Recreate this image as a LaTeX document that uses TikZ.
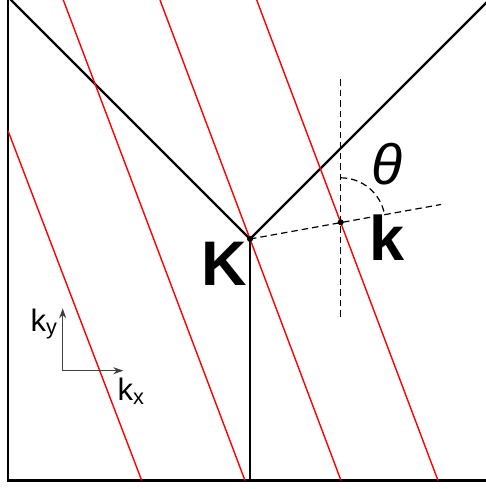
\documentclass[tikz,border=0pt]{standalone}
\usepackage{fontspec}
\newfontfamily\lib{Liberation Sans}
\usetikzlibrary{arrows.meta}
\begin{document}
\begin{tikzpicture}[x=1pt,y=1pt,
  frame/.style={line width=2.3pt,black},
  cone/.style={line width=2.3pt,black},
  wave/.style={line width=1.4pt,red},
  guide/.style={line width=1.2pt,black,dash pattern=on 6.5pt off 4pt},
  axis/.style={line width=1.3pt,black!75,-{Stealth[length=10pt,width=7pt]}},
  dot/.style={circle,fill=black,inner sep=0pt,minimum size=6pt},
  biglabel/.style={font=\lib\bfseries\fontsize{63}{63}\selectfont,inner sep=0pt},
  smalllabel/.style={font=\lib\fontsize{31}{31}\selectfont,inner sep=0pt}]
\useasboundingbox (0,0) rectangle (486,489);
\clip (0,0) rectangle (486,489);
% points
\coordinate (K) at (250,250);
\coordinate (k) at (340.7,266.7);
\coordinate (tl) at (8,489);
\coordinate (bl) at (8,8.5);
\coordinate (br) at (490,8.5);
\coordinate (cl) at (6,494);
\coordinate (cr) at (492,492);
\coordinate (Kb) at (250,8.5);
% frame
\draw[frame] (tl) -- (bl) -- (br);
% cone
\draw[cone] (cl) -- (K) -- (cr);
\draw[line width=2pt] (K) -- (Kb);
% wavefronts
\coordinate (r1a) at (8,358.3);   \coordinate (r1b) at (141.7,8.5);
\coordinate (r2a) at (63.3,489);  \coordinate (r2b) at (245,8.5);
\coordinate (r3a) at (160,489);   \coordinate (r3b) at (341,8.5);
\coordinate (r4a) at (256.7,489); \coordinate (r4b) at (438,8.5);
\draw[wave] (r1a) -- (r1b);
\draw[wave] (r2a) -- (r2b);
\draw[wave] (r3a) -- (r3b);
\draw[wave] (r4a) -- (r4b);
% guides
\coordinate (kend) at (441,284.5);
\coordinate (vtop) at (340.7,409.7);
\coordinate (vbot) at (340.7,169);
\draw[guide] (K) -- (kend);
\draw[guide] (vtop) -- (vbot);
\coordinate (arcstart) at (340.7,311.2);
\draw[guide] (arcstart) arc[start angle=90,end angle=10.4,radius=44.5];
% dots
\node[dot] (Kdot) at (K) {};
\node[dot] (kdot) at (k) {};
% labels
\node[biglabel] (Klab) at (224.7,225) {K};
\node[biglabel] (klab) at (386.7,251) {k};
\node[inner sep=0pt,font=\lib\itshape\fontsize{57}{57}\selectfont] (theta) at (387,325) {θ};
% axes
\coordinate (o) at (62.7,118.3);
\coordinate (ytip) at (62.7,180.7);
\coordinate (xtip) at (123.3,118.3);
\draw[axis] (o) -- (ytip);
\draw[axis] (o) -- (xtip);
\node[smalllabel] (ky) at (44,165) {k\textsubscript{y}};
\node[smalllabel] (kx) at (131,98) {k\textsubscript{x}};
\end{tikzpicture}
\end{document}
